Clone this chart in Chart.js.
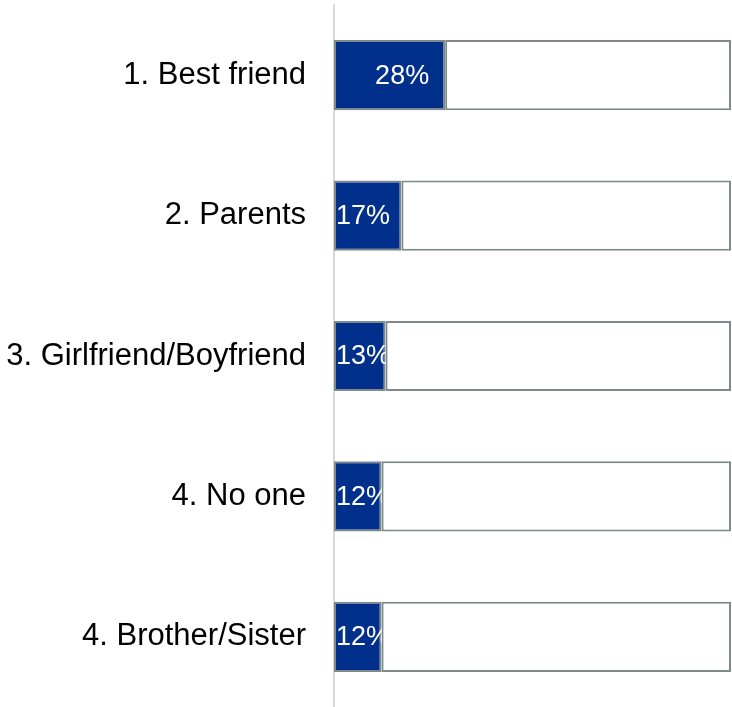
<!DOCTYPE html>
<html>
<head>
<meta charset="utf-8">
<script src="https://cdn.jsdelivr.net/npm/chart.js@4.4.0/dist/chart.umd.min.js"></script>
<style>
  html, body { margin: 0; padding: 0; background: #fff; }
  #wrap { width: 732px; height: 707px; }
</style>
</head>
<body>
<div id="wrap"><canvas id="rankChart"></canvas></div>
<script>
const categories = ['1. Best friend', '2. Parents', '3. Girlfriend/Boyfriend', '4. No one', '4. Brother/Sister'];
const shares = [28, 17, 13, 12, 12];
const remainder = shares.map(v => 100 - v);

// white text drawn inside each blue bar, cut off where the bar ends
const barLabels = {
    id: 'barLabels',
    afterDatasetsDraw(chart) {
        const ctx = chart.ctx;
        const meta = chart.getDatasetMeta(0);
        meta.data.forEach(function(bar, i) {
            const left = bar.base;
            const right = bar.x;
            const top = bar.y - bar.height / 2;
            ctx.save();
            ctx.beginPath();
            ctx.rect(left, top, right - left, bar.height);
            ctx.clip();
            ctx.font = '27px "Liberation Sans", Arial, sans-serif';
            ctx.fillStyle = '#ffffff';
            ctx.textBaseline = 'middle';
            const text = shares[i] + '%';
            const w = ctx.measureText(text).width;
            let x = right - 16 - w;
            if (x < left + 2) x = left + 2;
            ctx.fillText(text, x, bar.y + 1);
            ctx.restore();
        });
    }
};

document.addEventListener('DOMContentLoaded', function() {
    const ctx = document.getElementById('rankChart').getContext('2d');
    new Chart(ctx, {
        type: 'bar',
        data: {
            labels: categories,
            datasets: [{
                data: shares,
                backgroundColor: '#002F8C',
                borderColor: '#7E8A8A',
                borderWidth: 2,
                borderSkipped: false,
                barPercentage: 0.5,
                categoryPercentage: 1
            }, {
                data: remainder,
                backgroundColor: '#ffffff',
                borderColor: '#7E8A8A',
                borderWidth: 2,
                borderSkipped: false,
                barPercentage: 0.5,
                categoryPercentage: 1
            }]
        },
        options: {
            indexAxis: 'y',
            responsive: true,
            maintainAspectRatio: false,
            animation: false,
            layout: { padding: { top: 5, right: 1, bottom: 0, left: 0 } },
            plugins: {
                legend: { display: false },
                tooltip: { enabled: false }
            },
            scales: {
                x: {
                    stacked: true,
                    min: 0,
                    max: 100,
                    display: false
                },
                y: {
                    stacked: true,
                    grid: { display: false, drawTicks: false },
                    border: { display: true, color: '#d9d9d9', width: 2 },
                    ticks: {
                        color: '#000000',
                        padding: 28,
                        font: { family: '"Liberation Sans", Arial, sans-serif', size: 31 }
                    },
                    afterFit: function(axis) {
                        axis.width = 334;
                        axis.paddingTop = 0;
                        axis.paddingBottom = 0;
                    }
                }
            }
        },
        plugins: [barLabels]
    });
});
</script>
</body>
</html>
